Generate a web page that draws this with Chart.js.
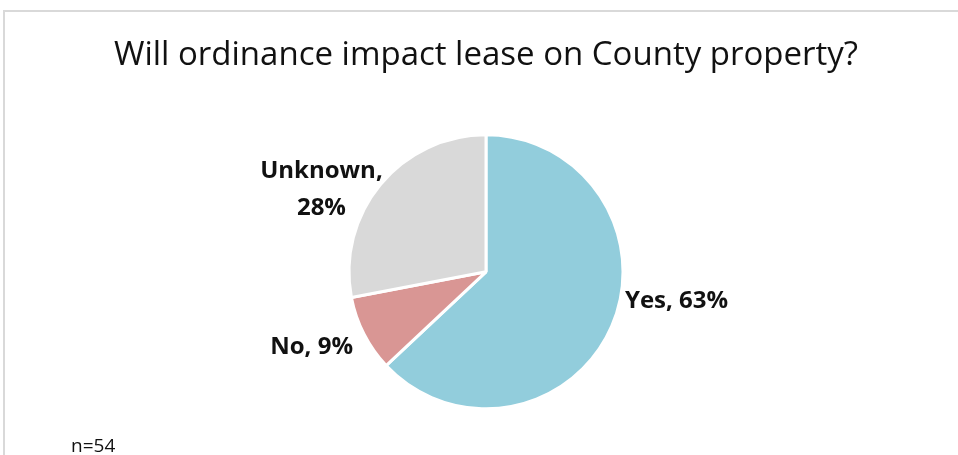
<!DOCTYPE html>
<html>
<head>
<meta charset="utf-8">
<script src="https://cdn.jsdelivr.net/npm/chart.js@4/dist/chart.umd.min.js"></script>
<style>
  html, body { margin: 0; padding: 0; background: #fff; }
  #wrap { position: relative; width: 958px; height: 455px; overflow: hidden; }
  #frame { position: absolute; left: 3px; top: 10px; right: -10px; bottom: -10px;
           border-left: 2px solid #d9d9d9; border-top: 2px solid #d9d9d9; }
  canvas { position: absolute; left: 0; top: 0; }
</style>
</head>
<body>
<div id="wrap">
  <div id="frame"></div>
  <canvas id="leaseChart" width="958" height="455"></canvas>
</div>
<script>
const categories = ["Yes", "No", "Unknown"];
const shares = [63, 9, 28];
const sliceColors = ["#92cddc", "#d99694", "#d9d9d9"];
const sampleNote = "n=54";

const FONT = "'Open Sans', Lato, sans-serif";

// labels sit just outside each slice, nudged a little like the office "best fit"
const pieLabels = {
  id: "pieLabels",
  afterDatasetsDraw(chart, args, opts) {
    const ctx = chart.ctx;
    const meta = chart.getDatasetMeta(0);
    ctx.save();
    ctx.font = "bold 24px " + FONT;
    ctx.fillStyle = "#111";
    ctx.textBaseline = "middle";
    ctx.textAlign = "center";
    meta.data.forEach((arc, i) => {
      const mid = (arc.startAngle + arc.endAngle) / 2;
      const r = arc.outerRadius + 10;
      const nudge = opts.nudge[i] || [0, 0];
      const x = arc.x + Math.cos(mid) * r + nudge[0];
      const y = arc.y + Math.sin(mid) * r + nudge[1];
      const lines = opts.wrap[i]
        ? [categories[i] + ",", shares[i] + "%"]
        : [categories[i] + ", " + shares[i] + "%"];
      const w = Math.max(...lines.map(t => ctx.measureText(t).width));
      // block is centred text, hung off the anchor on the slice's side
      const cx = Math.cos(mid) >= 0 ? x + w / 2 : x - w / 2;
      const lh = 37;
      lines.forEach((t, k) => {
        ctx.fillText(t, cx, y + (k - (lines.length - 1) / 2) * lh);
      });
    });
    // sample size note, lower left
    ctx.font = "19px " + FONT;
    ctx.textAlign = "left";
    ctx.textBaseline = "alphabetic";
    ctx.fillText(sampleNote, 71, 452);
    ctx.restore();
  }
};

new Chart(document.getElementById("leaseChart").getContext("2d"), {
  type: "pie",
  data: {
    labels: categories,
    datasets: [{
      data: shares,
      backgroundColor: sliceColors,
      borderColor: "#ffffff",
      borderWidth: 3,
      radius: 137
    }]
  },
  options: {
    responsive: false,
    animation: false,
    layout: { padding: { left: 20, right: 6, top: 0, bottom: 24 } },
    plugins: {
      legend: { display: false },
      tooltip: { enabled: false },
      title: {
        display: true,
        text: "Will ordinance impact lease on County property?",
        color: "#111",
        font: { family: FONT, size: 33, weight: "normal" },
        padding: { top: 36, bottom: 37 }
      },
      pieLabels: {
        nudge: [[4, -29], [-2, 9], [10, 12]],
        wrap: [false, false, true]
      }
    }
  },
  plugins: [pieLabels]
});
</script>
</body>
</html>
